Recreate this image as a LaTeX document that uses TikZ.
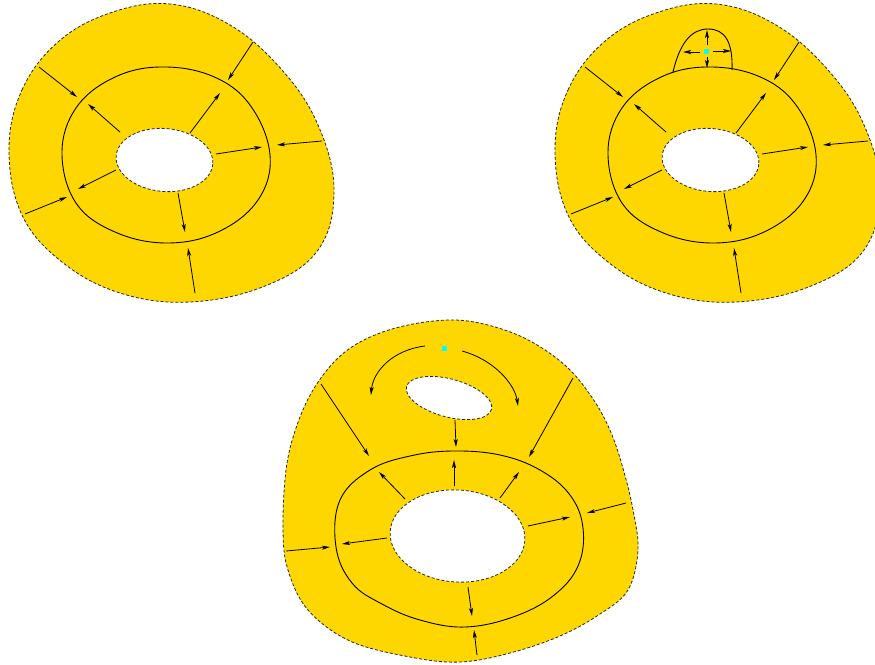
\documentclass[tikz,border=0pt]{standalone}
\usetikzlibrary{arrows.meta}
\definecolor{gold}{RGB}{255,215,0}
\definecolor{cyanpt}{RGB}{0,255,255}
\tikzset{
  x=1pt,y=-1pt,
  outline/.style={draw=black!85,line width=0.8pt,dash pattern=on 3pt off 2pt},
  curve/.style={draw=black,line width=0.9pt},
  arr/.style={draw=black,line width=0.8pt,-{Stealth[length=8pt,width=4pt,inset=2pt]}},
}
\newcommand{\outerA}{plot[smooth cycle,tension=0.65] coordinates {(9,150) (22,90) (58,42) (110,13) (170,4) (230,25) (282,70) (318,125) (334,190) (318,250) (265,286) (190,302) (120,293) (62,262) (22,215)}}
\newcommand{\curveA}{plot[smooth cycle,tension=0.65] coordinates {(160,67) (212,76) (250,105) (270,155) (258,200) (218,232) (167,243) (115,232) (76,203) (62,153) (76,108) (113,78)}}
\newcommand{\arrowsA}{%
  \draw[arr] (39,67) -- (77,97);
  \draw[arr] (253,42) -- (228,80);
  \draw[arr] (322,141) -- (277,145);
  \draw[arr] (25,214) -- (67,197);
  \draw[arr] (195,293) -- (188,248);
  \draw[arr] (120,132) -- (88,104);
  \draw[arr] (190,133) -- (220,93);
  \draw[arr] (216,154) -- (262,147);
  \draw[arr] (116,170) -- (78,189);
  \draw[arr] (178,193) -- (185,232);
}
\newcommand{\figA}{%
  \fill[gold] \outerA;
  \fill[white,shift={(164.5,160)},rotate=-5] (0,0) ellipse[x radius=48.5,y radius=31.5];
  \draw[outline] \outerA;
  \draw[outline,shift={(164.5,160)},rotate=-5] (0,0) ellipse[x radius=48.5,y radius=31.5];
  \draw[curve] \curveA;
  \arrowsA
}
\begin{document}
\begin{tikzpicture}
\useasboundingbox (0,0) rectangle (875,664);
% ---------- figure 1 ----------
\figA
% ---------- figure 2 ----------
\begin{scope}[shift={(546,0)}]
\figA
\end{scope}
\draw[curve] (673,72) .. controls (680,42) and (692,29) .. (708,29) .. controls (725,29) and (733,42) .. (732,70);
\fill[cyanpt] (703.5,48.5) rectangle (708.5,53.5);
\draw[arr] (707,45) -- (707,30);
\draw[arr] (707,57) -- (707,68);
\draw[arr] (700,52) -- (683,52);
\draw[arr] (713,51) -- (731,51);
% ---------- figure 3 ----------
\newcommand{\outerC}{plot[smooth cycle,tension=0.6] coordinates {(455,320) (495,327) (532,342) (568,368) (595,402) (612,435) (624,472) (633,510) (638,550) (628,590) (600,614) (560,636) (510,653) (460,662) (410,657) (350,641) (308,610) (288,570) (283,530) (286,470) (296,428) (313,390) (338,358) (368,338) (408,325)}}
\fill[gold] \outerC;
\fill[white,shift={(457.5,536)},rotate=-4] (0,0) ellipse[x radius=67.5,y radius=46];
\fill[white,shift={(449,398)},rotate=-15] (0,0) ellipse[x radius=44,y radius=19];
\draw[outline] \outerC;
\draw[outline,shift={(457.5,536)},rotate=-4] (0,0) ellipse[x radius=67.5,y radius=46];
\draw[outline,shift={(449,398)},rotate=-15] (0,0) ellipse[x radius=44,y radius=19];
\draw[curve] plot[smooth cycle,tension=0.65] coordinates {(453,451) (500,455) (540,470) (570,495) (583,528) (578,566) (553,596) (513,617) (465,627) (420,620) (382,604) (352,583) (336,547) (340,500) (370,470) (410,456)};
\fill[cyanpt] (441.5,345.5) rectangle (446.5,350.5);
\draw[arr] (425,346) .. controls (392,350) and (373,372) .. (371,395);
\draw[arr] (462,351) .. controls (495,360) and (515,385) .. (518,406);
\draw[arr] (321,384) -- (369,456);
\draw[arr] (455,420) -- (456,447);
\draw[arr] (573,378) -- (529,457);
\draw[arr] (626,503) -- (587,513);
\draw[arr] (286,551) -- (330,547);
\draw[arr] (477,655) -- (474,630);
\draw[arr] (405,499) -- (379,472);
\draw[arr] (454,486) -- (454,460);
\draw[arr] (500,498) -- (519,472);
\draw[arr] (528,526) -- (570,517);
\draw[arr] (387,538) -- (342,544);
\draw[arr] (468,587) -- (472,616);
\end{tikzpicture}
\end{document}
